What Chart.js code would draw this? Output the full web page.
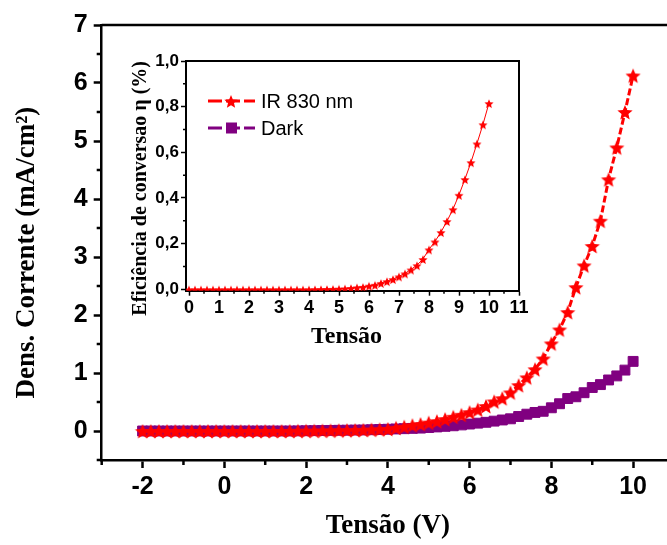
<!DOCTYPE html>
<html>
<head>
<meta charset="utf-8">
<script src="https://cdn.jsdelivr.net/npm/chart.js@4/dist/chart.umd.min.js"></script>
<style>
  html, body { margin: 0; padding: 0; background: #fff; overflow: hidden; width: 667px; height: 545px; }
  #mainChart { position: absolute; left: 0; top: 0; }
  #insetChart { position: absolute; left: 110px; top: 40px; }
</style>
</head>
<body>
<canvas id="mainChart" width="700" height="545"></canvas>
<canvas id="insetChart" width="430" height="320"></canvas>
<script>
// Tensão (V), -2 to 10
const volts = [-2, -1.8, -1.6, -1.4, -1.2, -1, -0.8, -0.6, -0.4, -0.2,
  0, 0.2, 0.4, 0.6, 0.8, 1, 1.2, 1.4, 1.6, 1.8,
  2, 2.2, 2.4, 2.6, 2.8, 3, 3.2, 3.4, 3.6, 3.8,
  4, 4.2, 4.4, 4.6, 4.8, 5, 5.2, 5.4, 5.6, 5.8,
  6, 6.2, 6.4, 6.6, 6.8, 7, 7.2, 7.4, 7.6, 7.8,
  8, 8.2, 8.4, 8.6, 8.8, 9, 9.2, 9.4, 9.6, 9.8, 10];

// Dens. Corrente (mA/cm2) under IR 830 nm
const irCurrent = [0, 0, 0, 0, 0, 0, 0, 0, 0, 0,
  0, 0, 0, 0, 0, 0, 0, 0, 0.002, 0.004,
  0.005, 0.006, 0.008, 0.01, 0.012, 0.015, 0.017, 0.02, 0.025, 0.03,
  0.035, 0.055, 0.075, 0.1, 0.12, 0.145, 0.17, 0.205, 0.245, 0.28,
  0.325, 0.37, 0.43, 0.51, 0.565, 0.665, 0.79, 0.925, 1.065, 1.25,
  1.51, 1.75, 2.05, 2.48, 2.855, 3.19, 3.625, 4.34, 4.89, 5.5, 6.13];

// Dens. Corrente (mA/cm2) in the dark
const darkCurrent = [0, 0, 0, 0, 0, 0, 0, 0, 0, 0,
  0, 0, 0, 0, 0, 0, 0, 0, 0, 0.002,
  0.004, 0.006, 0.008, 0.01, 0.012, 0.014, 0.016, 0.018, 0.022, 0.026,
  0.03, 0.035, 0.04, 0.045, 0.05, 0.06, 0.07, 0.08, 0.09, 0.105,
  0.12, 0.135, 0.15, 0.17, 0.19, 0.21, 0.25, 0.29, 0.32, 0.34,
  0.4, 0.47, 0.56, 0.59, 0.66, 0.75, 0.8, 0.88, 0.95, 1.05, 1.2];

// inset: Eficiência de conversao (%), 0 to 10 V
const insetVolts = volts.slice(10);
const efficiency = [0, 0, 0, 0, 0, 0, 0, 0, 0, 0,
  0, 0, 0, 0, 0, 0, 0, 0, 0, 0,
  0, 0.0005, 0.001, 0.0015, 0.002, 0.003, 0.004, 0.006, 0.009, 0.011,
  0.016, 0.02, 0.028, 0.036, 0.045, 0.057, 0.07, 0.087, 0.106, 0.133,
  0.175, 0.21, 0.251, 0.299, 0.351, 0.414, 0.483, 0.557, 0.639, 0.723,
  0.816, 0.912];

const seriesNames = ['IR 830 nm', 'Dark'];
const seriesColors = ['#ff0000', '#800080'];

const mainXTicks = [-2, 0, 2, 4, 6, 8, 10];
const mainXMinor = [-3, -1, 1, 3, 5, 7, 9, 11];
const mainYTicks = [0, 1, 2, 3, 4, 5, 6, 7];
const mainYMinor = [-0.5, 0.5, 1.5, 2.5, 3.5, 4.5, 5.5, 6.5];
const insetXTicks = [0, 1, 2, 3, 4, 5, 6, 7, 8, 9, 10, 11];
const insetXMinor = [0.5, 1.5, 2.5, 3.5, 4.5, 5.5, 6.5, 7.5, 8.5, 9.5, 10.5];
const insetYTicks = [0, 0.2, 0.4, 0.6, 0.8, 1.0];
const insetYMinor = [0.1, 0.3, 0.5, 0.7, 0.9];

const SANS = "'Liberation Sans', Arial, sans-serif";
const SERIF = "'Liberation Serif', 'Times New Roman', serif";

// filled five point star, used as a point style
function makeStar(r, color) {
  const s = Math.ceil(r * 2 + 2);
  const c = document.createElement('canvas');
  c.width = s; c.height = s;
  const g = c.getContext('2d');
  g.fillStyle = color;
  g.beginPath();
  for (let i = 0; i < 10; i++) {
    const rad = i % 2 ? r * 0.45 : r;
    const a = -Math.PI / 2 + i * Math.PI / 5;
    const px = s / 2 + rad * Math.cos(a);
    const py = s / 2 + 1 + rad * Math.sin(a);
    if (i === 0) g.moveTo(px, py); else g.lineTo(px, py);
  }
  g.closePath();
  g.fill();
  return c;
}

const bigStar = makeStar(8, seriesColors[0]);
const smallStar = makeStar(4.8, seriesColors[0]);
const legendStar = makeStar(7, seriesColors[0]);

function pts(xs, ys) {
  return xs.map((x, i) => ({ x: x, y: ys[i] }));
}

function fixTicks(values) {
  return function (scale) {
    scale.ticks = values.map(v => ({ value: v }));
  };
}

// box around the plot plus short minor ticks
const framePlugin = {
  id: 'frame',
  afterDraw(chart, args, opts) {
    const { ctx, chartArea: a, scales } = chart;
    ctx.save();
    ctx.strokeStyle = '#000';
    ctx.lineWidth = opts.width;
    ctx.beginPath();
    ctx.moveTo(a.left, a.top);
    ctx.lineTo(a.right, a.top);
    ctx.lineTo(a.right, a.bottom);
    ctx.stroke();
    ctx.lineWidth = opts.tickWidth;
    ctx.beginPath();
    opts.xMinor.forEach(v => {
      const px = scales.x.getPixelForValue(v);
      ctx.moveTo(px, a.bottom);
      ctx.lineTo(px, a.bottom + opts.minorLen);
    });
    opts.yMinor.forEach(v => {
      const py = scales.y.getPixelForValue(v);
      ctx.moveTo(a.left, py);
      ctx.lineTo(a.left - opts.minorLen, py);
    });
    ctx.stroke();
    ctx.restore();
  }
};

const mainChart = new Chart(document.getElementById('mainChart'), {
  type: 'scatter',
  data: {
    datasets: [{
      label: seriesNames[0],
      data: pts(volts, irCurrent),
      showLine: true,
      borderColor: seriesColors[0],
      backgroundColor: seriesColors[0],
      borderWidth: 3,
      borderDash: [7, 3],
      pointStyle: bigStar,
      pointRadius: 7
    }, {
      label: seriesNames[1],
      data: pts(volts, darkCurrent),
      showLine: true,
      borderColor: seriesColors[1],
      backgroundColor: seriesColors[1],
      borderWidth: 3,
      borderDash: [7, 3],
      pointStyle: 'rect',
      pointRadius: 7,
      pointBorderWidth: 1
    }]
  },
  options: {
    responsive: false,
    animation: false,
    layout: { padding: { left: 0, top: 25, right: 26, bottom: 0 } },
    plugins: {
      legend: { display: false },
      tooltip: { enabled: false },
      frame: { width: 2.5, tickWidth: 2.5, minorLen: 5, xMinor: mainXMinor, yMinor: mainYMinor }
    },
    scales: {
      x: {
        type: 'linear', min: -3, max: 11,
        afterBuildTicks: fixTicks(mainXTicks),
        afterFit(scale) { scale.height = 85; },
        grid: { drawOnChartArea: false, drawTicks: true, tickLength: 8, tickWidth: 2.5, tickColor: '#000' },
        border: { display: true, color: '#000', width: 2.5 },
        ticks: { autoSkip: false, maxRotation: 0, color: '#000', padding: 4, font: { family: SANS, size: 25, weight: 'bold' } },
        title: { display: true, text: 'Tensão (V)', color: '#000', padding: { top: 0, bottom: 3 }, font: { family: SERIF, size: 27, weight: 'bold' } }
      },
      y: {
        type: 'linear', min: -0.5, max: 7,
        afterBuildTicks: fixTicks(mainYTicks),
        afterFit(scale) { scale.width = 101.7; },
        grid: { drawOnChartArea: false, drawTicks: true, tickLength: 8, tickWidth: 2.5, tickColor: '#000' },
        border: { display: true, color: '#000', width: 2.5 },
        ticks: { autoSkip: false, color: '#000', padding: 6, font: { family: SANS, size: 25, weight: 'bold' } },
        title: { display: true, text: 'Dens. Corrente (mA/cm²)   ', color: '#000', padding: { top: 11, bottom: 0 }, font: { family: SERIF, size: 27, weight: 'bold' } }
      }
    }
  },
  plugins: [framePlugin]
});

// legend of the main series, placed inside the inset
const legendPlugin = {
  id: 'insetLegend',
  afterDraw(chart) {
    const ctx = chart.ctx;
    const rows = [
      { y: 61, marker: 'star' },
      { y: 88, marker: 'rect' }
    ];
    ctx.save();
    rows.forEach((row, i) => {
      const ds = mainChart.data.datasets[i];
      ctx.strokeStyle = ds.borderColor;
      ctx.lineWidth = 3;
      ctx.setLineDash([14, 4]);
      ctx.beginPath();
      ctx.moveTo(98, row.y);
      ctx.lineTo(145, row.y);
      ctx.stroke();
      ctx.setLineDash([]);
      if (row.marker === 'star') {
        ctx.drawImage(legendStar, 121 - legendStar.width / 2, row.y - legendStar.height / 2);
      } else {
        ctx.fillStyle = ds.backgroundColor;
        ctx.fillRect(116, row.y - 5.5, 11, 11);
      }
      ctx.fillStyle = '#000';
      ctx.font = '20px ' + SANS;
      ctx.textBaseline = 'middle';
      ctx.textAlign = 'left';
      ctx.fillText(ds.label, 151, row.y + 1);
    });
    ctx.restore();
  }
};

new Chart(document.getElementById('insetChart'), {
  type: 'scatter',
  data: {
    datasets: [{
      label: 'Eficiência',
      data: pts(insetVolts, efficiency),
      showLine: true,
      borderColor: seriesColors[0],
      backgroundColor: seriesColors[0],
      borderWidth: 1,
      pointStyle: smallStar,
      pointRadius: 5
    }]
  },
  options: {
    responsive: false,
    animation: false,
    layout: { padding: { left: 0, top: 21, right: 21, bottom: 0 } },
    plugins: {
      legend: { display: false },
      tooltip: { enabled: false },
      frame: { width: 2, tickWidth: 1.5, minorLen: 3, xMinor: insetXMinor, yMinor: insetYMinor }
    },
    scales: {
      x: {
        type: 'linear', min: -0.1, max: 11,
        afterBuildTicks: fixTicks(insetXTicks),
        afterFit(scale) { scale.height = 69.3; },
        grid: { drawOnChartArea: false, drawTicks: true, tickLength: 5, tickWidth: 1.5, tickColor: '#000' },
        border: { display: true, color: '#000', width: 2 },
        ticks: { autoSkip: false, maxRotation: 0, color: '#000', padding: 2, font: { family: SANS, size: 18, weight: 'bold' } },
        title: { display: true, text: 'Tensão  ', color: '#000', padding: { top: 0, bottom: 9 }, font: { family: SERIF, size: 24, weight: 'bold' } }
      },
      y: {
        type: 'linear', min: -0.006, max: 1.0,
        afterBuildTicks: fixTicks(insetYTicks),
        afterFit(scale) { scale.width = 76; },
        grid: { drawOnChartArea: false, drawTicks: true, tickLength: 5, tickWidth: 1.5, tickColor: '#000' },
        border: { display: true, color: '#000', width: 2 },
        ticks: {
          autoSkip: false, color: '#000', padding: 2,
          font: { family: SANS, size: 17, weight: 'bold' },
          callback: v => v.toFixed(1).replace('.', ',')
        },
        title: { display: true, text: 'Eficiência de conversao η (%)     ', color: '#000', padding: { top: 19, bottom: 0 }, font: { family: SERIF, size: 20, weight: 'bold' } }
      }
    }
  },
  plugins: [framePlugin, legendPlugin]
});
</script>
</body>
</html>
